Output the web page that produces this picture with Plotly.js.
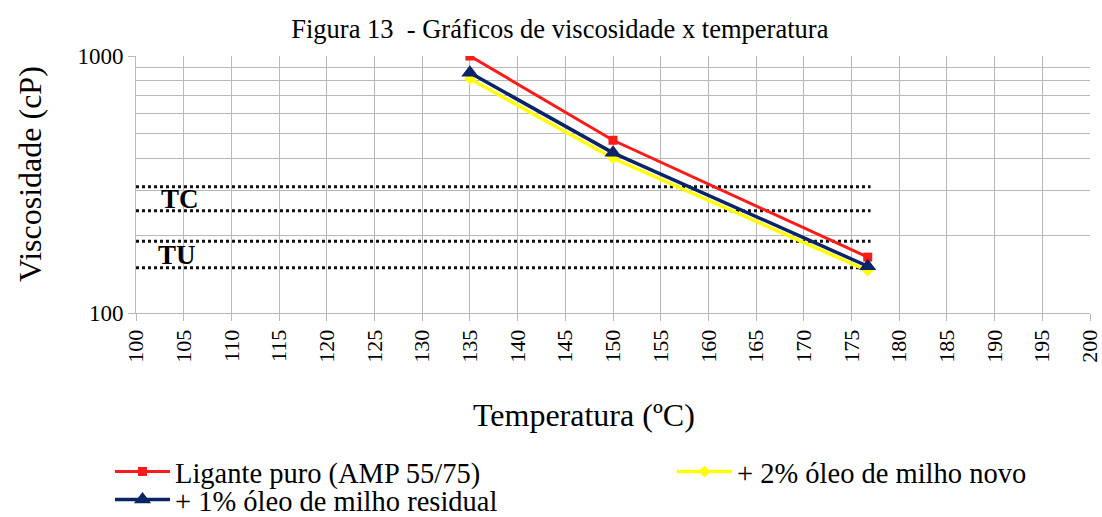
<!DOCTYPE html>
<html>
<head>
<meta charset="utf-8">
<script src="https://cdn.plot.ly/plotly-3.0.1.min.js"></script>
<style>html,body{margin:0;padding:0;background:#fff;}#chart{width:1102px;height:517px;}</style>
</head>
<body>
<div id="chart"></div>
<script>
// Data
const temperatures = [135, 150, 176.7];
const ligantePuro = [1000, 470, 165];
const oleoNovo2 = [815, 400, 146];
const oleoResidual1 = [860, 420, 152];
const seriesNames = ["Ligante puro (AMP 55/75)", "+ 2% óleo de milho novo", "+ 1% óleo de milho residual"];
const limitX = [100, 177];
const tcLimits = [250, 310];
const tuLimits = [150, 190];
const bandLabels = ["TC", "TU"];
const xTicks = [100,105,110,115,120,125,130,135,140,145,150,155,160,165,170,175,180,185,190,195,200];
const yMajor = [100, 1000];
const yMinor = [200,300,400,500,600,700,800,900];
const chartTitle = "Figura 13&nbsp; - Gráficos de viscosidade x temperatura";
const xTitle = "Temperatura (ºC)";
const yTitle = "Viscosidade (cP)";

const W = 1102, H = 517;
const M = {l: 136, r: 12, t: 56, b: 204};
const PW = W - M.l - M.r, PH = H - M.t - M.b;
const px2paperX = px => (px - M.l) / PW;
const px2paperY = py => (H - M.b - py) / PH;

const serif = "Liberation Serif, Times New Roman, serif";
const dotLine = {color: "#111", width: 3, dash: "dot"};
const gridCol = "#b8b8b8";

function limitTrace(v) {
  return {x: limitX, y: [v, v], mode: "lines", line: dotLine, showlegend: false, hoverinfo: "skip"};
}

const traces = [
  limitTrace(tcLimits[0]), limitTrace(tcLimits[1]),
  limitTrace(tuLimits[0]), limitTrace(tuLimits[1]),
  {x: temperatures, y: ligantePuro, name: seriesNames[0], mode: "lines+markers", legend: "legend",
   line: {color: "#ff1a1a", width: 3}, marker: {symbol: "square", size: 9, color: "#ff1a1a"}},
  {x: temperatures, y: oleoNovo2, name: seriesNames[1], mode: "lines+markers", legend: "legend2",
   line: {color: "#ffff00", width: 3.5}, marker: {symbol: "diamond", size: 9, color: "#ffff00"}},
  {x: temperatures, y: oleoResidual1, name: seriesNames[2], mode: "lines+markers", legend: "legend3",
   line: {color: "#0a2466", width: 3.5}, marker: {symbol: "triangle-up", size: 15, color: "#0a2466"}}
];

const gm = a => Math.sqrt(a[0] * a[1]);
const legFont = {family: serif, size: 28.5, color: "#000"};
function leg(xpx, ypx) {
  return {xref: "container", yref: "container", x: xpx / W, y: 1 - ypx / H, xanchor: "left", yanchor: "middle",
          font: legFont, itemwidth: 55, bgcolor: "rgba(0,0,0,0)", borderwidth: 0};
}

const layout = {
  width: W, height: H,
  margin: {l: M.l, r: M.r, t: M.t, b: M.b, autoexpand: false},
  paper_bgcolor: "#fff", plot_bgcolor: "#fff",
  title: {text: chartTitle, font: {family: serif, size: 26.5, color: "#000"},
          x: 0.508, xanchor: "center", y: 0.944, yanchor: "middle"},
  font: {family: serif, color: "#000"},
  xaxis: {
    range: [100, 200], tickmode: "array", tickvals: xTicks, ticktext: xTicks.map(String),
    tickangle: -90, tickfont: {family: serif, size: 22, color: "#000"}, ticklabeloverflow: "allow",
    showgrid: true, gridcolor: gridCol, gridwidth: 1,
    ticks: "outside", ticklen: 7, tickcolor: gridCol,
    showline: true, linecolor: gridCol, zeroline: false, automargin: false
  },
  yaxis: {
    type: "log", range: [2, 3], tickmode: "array", tickvals: yMajor, ticktext: yMajor.map(String),
    tickfont: {family: serif, size: 23, color: "#000"}, ticklabeloverflow: "allow",
    showgrid: true, gridcolor: gridCol, gridwidth: 1,
    ticks: "outside", ticklen: 7, tickcolor: gridCol,
    showline: true, linecolor: gridCol, zeroline: false, automargin: false,
    minor: {tickmode: "array", tickvals: yMinor, showgrid: true, gridcolor: gridCol, gridwidth: 1, ticks: ""}
  },
  legend: leg(110, 472),
  legend2: leg(672, 472),
  legend3: leg(110, 500),
  annotations: [
    {x: 104.6, y: Math.log10(gm(tcLimits)), xref: "x", yref: "y", text: "<b>" + bandLabels[0] + "</b>", showarrow: false,
     font: {family: serif, size: 27, color: "#000"}},
    {x: 104.3, y: Math.log10(gm(tuLimits)), xref: "x", yref: "y", text: "<b>" + bandLabels[1] + "</b>", showarrow: false,
     font: {family: serif, size: 27, color: "#000"}},
    {x: px2paperX(584), y: px2paperY(415), xref: "paper", yref: "paper", text: xTitle, showarrow: false,
     xanchor: "center", yanchor: "middle", font: {family: serif, size: 32, color: "#000"}},
    {x: px2paperX(30), y: px2paperY(174), xref: "paper", yref: "paper", text: yTitle, showarrow: false, textangle: -90,
     xanchor: "center", yanchor: "middle", font: {family: serif, size: 32, color: "#000"}}
  ],
  showlegend: true
};

Plotly.newPlot("chart", traces, layout, {displayModeBar: false, staticPlot: true});
</script>
</body>
</html>
